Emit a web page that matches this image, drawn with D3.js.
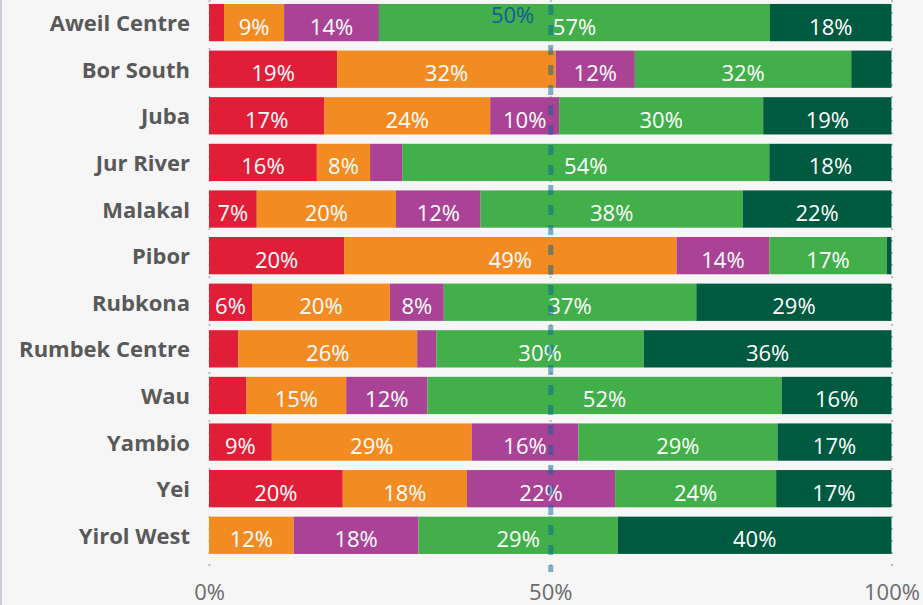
<!DOCTYPE html>
<html>
<head>
<meta charset="utf-8">
<script src="https://cdn.jsdelivr.net/npm/d3@7"></script>
<style>
  html, body { margin: 0; padding: 0; background: #f6f6f6; }
  svg { display: block; }
</style>
</head>
<body>
<svg id="chart" width="923" height="605"></svg>
<script>
// Counties and their share of responses per category (percent of row)
const counties = ["Aweil Centre", "Bor South", "Juba", "Jur River", "Malakal", "Pibor",
  "Rubkona", "Rumbek Centre", "Wau", "Yambio", "Yei", "Yirol West"];
const seriesKeys = ["s1", "s2", "s3", "s4", "s5"];
const s1 = [2.2, 18.8, 16.9, 15.8, 7.0, 19.8, 6.3, 4.3, 5.5, 9.2, 19.6, 0];
const s2 = [8.8, 32.0, 24.3, 7.8, 20.4, 48.7, 20.2, 26.2, 14.6, 29.3, 18.2, 12.4];
const s3 = [13.9, 11.6, 10.1, 4.7, 12.4, 13.6, 7.9, 2.8, 11.9, 15.6, 21.7, 18.3];
const s4 = [57.3, 31.7, 29.9, 53.8, 38.4, 17.2, 37.0, 30.4, 51.9, 29.2, 23.6, 29.2];
const s5 = [17.8, 5.9, 18.8, 17.9, 21.8, 0.7, 28.6, 36.3, 16.1, 16.7, 16.9, 40.1];
const colors = ["#e01e37", "#f18b22", "#aa4396", "#42af4a", "#005a3f"];
const xTicks = [0, 0.5, 1];
const referenceValue = 0.5;

const rows = counties.map((c, i) => ({
  county: c, s1: s1[i], s2: s2[i], s3: s3[i], s4: s4[i], s5: s5[i]
}));

const svg = d3.select("#chart");
const W = 923, H = 605;
const left = 209, right = 891.5;

const x = d3.scaleLinear().domain([0, 1]).range([left, right]);
const y = d3.scaleBand().domain(counties).range([-0.7, 558.6])
  .paddingInner(0.2).paddingOuter(0.1);

// left frame line
svg.append("rect").attr("x", 0).attr("y", 0).attr("width", 2).attr("height", H)
  .attr("fill", "#c9cfd8");

// dotted gridlines
svg.append("g")
  .attr("transform", `translate(0,${H})`)
  .call(d3.axisBottom(x).tickValues(xTicks).tickSize(H).tickFormat(""))
  .call(g => g.select(".domain").remove())
  .call(g => g.selectAll("line")
    .attr("transform", `translate(0,${-H})`)
    .attr("y1", 0).attr("y2", 574)
    .attr("stroke", "#bdbdbd").attr("stroke-width", 2)
    .attr("stroke-dasharray", "2,10"));

const stack = d3.stack().keys(seriesKeys).offset(d3.stackOffsetExpand);
const stacked = stack(rows);

const layers = svg.append("g").selectAll("g")
  .data(stacked).join("g")
  .attr("fill", (d, i) => colors[i]);

layers.selectAll("rect")
  .data(d => d.map(p => ({ p, key: d.key })))
  .join("rect")
  .attr("x", d => x(d.p[0]))
  .attr("y", d => y(d.p.data.county))
  .attr("width", d => Math.max(0, x(d.p[1]) - x(d.p[0])))
  .attr("height", y.bandwidth());

// segment value labels
const fmt = d3.format(".0f");
layers.selectAll("text")
  .data(d => d.map(p => ({ p, key: d.key })).filter(d => d.p.data[d.key] >= 6))
  .join("text")
  .attr("x", d => (x(d.p[0]) + x(d.p[1])) / 2)
  .attr("y", d => y(d.p.data.county) + y.bandwidth() / 2 + 12)
  .attr("text-anchor", "middle")
  .attr("fill", "#ffffff")
  .style("font-family", "'Open Sans', 'Noto Sans', sans-serif")
  .style("font-size", "22px")
  .text(d => fmt(d.p.data[d.key]) + "%");

// category axis
svg.append("g")
  .attr("transform", `translate(${left - 19},0)`)
  .call(d3.axisLeft(y).tickSize(0).tickPadding(0))
  .call(g => g.select(".domain").remove())
  .call(g => g.selectAll("text")
    .attr("dy", null)
    .attr("y", 8.5)
    .attr("fill", "#595959")
    .style("font-family", "'Open Sans', 'Noto Sans', sans-serif")
    .style("font-weight", "bold")
    .style("font-size", "22px"));

// percentage axis
svg.append("g")
  .call(d3.axisBottom(x).tickValues(xTicks).tickSize(0).tickFormat(d3.format(".0%")))
  .call(g => g.select(".domain").remove())
  .call(g => g.selectAll("text")
    .attr("dy", null)
    .attr("y", 600)
    .attr("fill", "#6b6b6b")
    .style("font-family", "'Open Sans', 'Noto Sans', sans-serif")
    .style("font-size", "22px"));

// 50% reference line
svg.append("line")
  .attr("x1", x(referenceValue) + 0.5).attr("x2", x(referenceValue) + 0.5)
  .attr("y1", 5).attr("y2", 572)
  .attr("stroke", "rgb(3,100,156)").attr("stroke-opacity", 0.5)
  .attr("stroke-width", 5).attr("stroke-dasharray", "10,10");

svg.append("text")
  .attr("x", x(referenceValue) - 16)
  .attr("y", 23)
  .attr("text-anchor", "end")
  .attr("fill", "#155a9c")
  .style("font-family", "'Open Sans', 'Noto Sans', sans-serif")
  .style("font-size", "22px")
  .text(d3.format(".0%")(referenceValue));
</script>
</body>
</html>
